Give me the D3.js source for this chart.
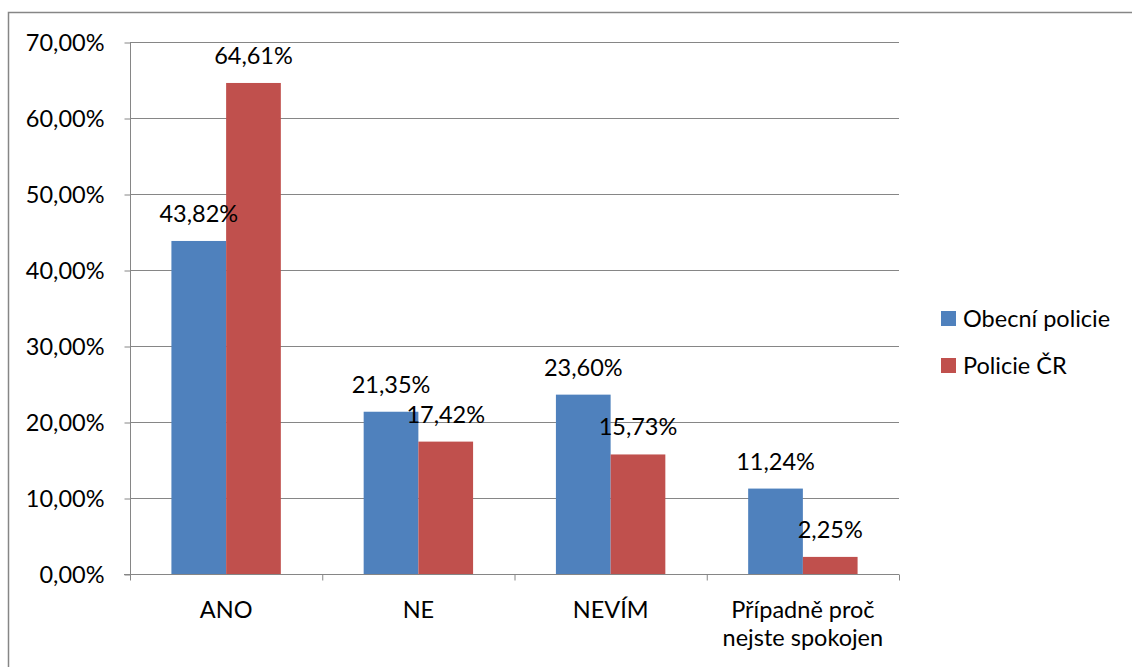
<!DOCTYPE html>
<html><head><meta charset="utf-8">
<script src="https://cdn.jsdelivr.net/npm/d3@7"></script>
<style>body{margin:0;background:#fff}svg{display:block}text{font-family:Lato,"Open Sans",sans-serif;fill:#000}</style>
</head><body><svg id="c" width="1132" height="667"></svg>
<script>
const categories = ["ANO", "NE", "NEVÍM", "Případně proč\nnejste spokojen"];
const seriesNames = ["Obecní policie", "Policie ČR"];
const obecni = [43.82, 21.35, 23.60, 11.24];
const policieCR = [64.61, 17.42, 15.73, 2.25];
const yTicks = [0, 10, 20, 30, 40, 50, 60, 70];
const colors = ["#4F81BD", "#C0504D"];

const svg = d3.select("#c");
const fs = 23.5;
const fmt = v => v.toFixed(2).replace(".", ",") + "%";

svg.append("rect").attr("x", 8.5).attr("y", 12.5).attr("width", 1200).attr("height", 700)
  .attr("fill", "none").attr("stroke", "#868686").attr("stroke-width", 1.5);

const x0 = 130, x1 = 899, yTop = 42, yBot = 574;
const x = d3.scaleBand().domain(categories).range([x0, x1]).paddingInner(0).paddingOuter(0);
const y = d3.scaleLinear().domain([0, 70]).range([yBot, yTop]);
const inner = d3.scaleBand().domain([0, 1]).range([0, x.bandwidth()]).paddingInner(0).paddingOuter(0.757);

svg.append("g").selectAll("line").data(yTicks.filter(d => d > 0)).join("line")
  .attr("x1", x0).attr("x2", x1).attr("y1", d => y(d) + 0.5).attr("y2", d => y(d) + 0.5)
  .attr("stroke", "#868686").attr("stroke-width", 1);

const data = [obecni, policieCR];
data.forEach((arr, s) => {
  svg.append("g").selectAll("rect").data(categories).join("rect")
    .attr("x", (c) => x(c) + inner(s)).attr("width", inner.bandwidth())
    .attr("y", (c, i) => y(arr[i])).attr("height", (c, i) => yBot - y(arr[i]))
    .attr("fill", colors[s]);
});
data.forEach((arr, s) => {
  svg.append("g").selectAll("text").data(categories).join("text")
    .attr("x", (c) => x(c) + inner(s) + inner.bandwidth() / 2)
    .attr("y", (c, i) => y(arr[i]) - 19)
    .attr("text-anchor", "middle").attr("font-size", fs)
    .text((c, i) => fmt(arr[i]));
});

const yAxis = d3.axisLeft(y).tickValues(yTicks).tickSize(6).tickPadding(20).tickFormat(d => fmt(d));
const ga = svg.append("g").attr("transform", `translate(${x0 + 0.5},0.5)`).call(yAxis);
ga.select(".domain").attr("stroke", "#868686").attr("d", `M0,${yTop}V${yBot}`);
ga.selectAll(".tick line").attr("stroke", "#868686");
ga.selectAll(".tick text").attr("font-size", fs).attr("font-family", "Lato").attr("dy", "0.35em");

const gx = svg.append("g").attr("transform", `translate(0,${yBot + 0.5})`);
gx.append("line").attr("x1", x0 - 6).attr("x2", x1).attr("stroke", "#868686");
gx.selectAll("line.t").data(categories.concat(["end"])).join("line").attr("class", "t")
  .attr("x1", (c, i) => (i < categories.length ? x(c) : x1) + 0.5)
  .attr("x2", (c, i) => (i < categories.length ? x(c) : x1) + 0.5)
  .attr("y1", 0).attr("y2", 6).attr("stroke", "#868686");
const lab = gx.selectAll("text").data(categories).join("text")
  .attr("text-anchor", "middle").attr("font-size", fs)
  .attr("transform", c => `translate(${x(c) + x.bandwidth() / 2},43)`);
lab.selectAll("tspan").data(c => c.split("\n")).join("tspan")
  .attr("x", 0).attr("dy", (d, i) => i === 0 ? 0 : 28).text(d => d);

const lg = svg.append("g").attr("transform", "translate(941,311)");
seriesNames.forEach((n, i) => {
  lg.append("rect").attr("x", 0).attr("y", i * 47).attr("width", 15).attr("height", 15).attr("fill", colors[i]);
  lg.append("text").attr("x", 22).attr("y", i * 47 + 16).attr("font-size", fs).text(n);
});
</script></body></html>
